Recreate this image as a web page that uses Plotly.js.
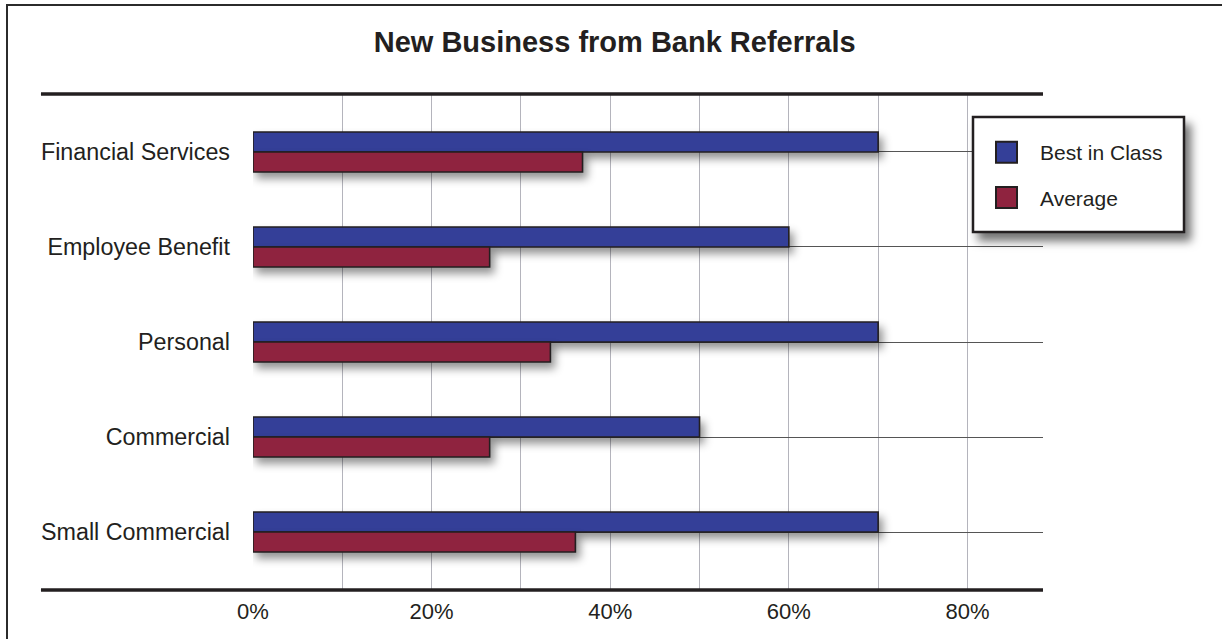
<!DOCTYPE html>
<html>
<head>
<meta charset="utf-8">
<script src="https://cdn.plot.ly/plotly-3.0.1.min.js"></script>
<style>
  html, body { margin: 0; padding: 0; background: #ffffff; overflow: hidden; }
  #wrap { position: relative; width: 1222px; height: 639px; overflow: hidden; }
  #chart { width: 1222px; height: 639px; }
  #frame { position: absolute; left: 5.5px; top: 3.8px; width: 1400px; height: 800px;
           border-top: 2.5px solid #2b2b2b; border-left: 2.5px solid #2b2b2b; pointer-events: none; }
  .barlayer .trace { filter: drop-shadow(4px 6px 4px rgba(0,0,0,0.42)); }
  .shapelayer path[data-index="2"] { filter: drop-shadow(6px 8px 5px rgba(0,0,0,0.55)); }
</style>
</head>
<body>
<div id="wrap">
<div id="chart"></div>
<div id="frame"></div>
</div>
<script>
const categories = ['Financial Services', 'Employee Benefit', 'Personal', 'Commercial', 'Small Commercial'];
const seriesNames = ['Best in Class', 'Average'];
const bestInClass = [0.70, 0.60, 0.70, 0.50, 0.70];
const average = [0.369, 0.265, 0.333, 0.265, 0.361];
const tickVals = [0, 0.1, 0.2, 0.3, 0.4, 0.5, 0.6, 0.7, 0.8];
const tickLabels = ['0%', '', '20%', '', '40%', '', '60%', '', '80%'];
const chartTitle = 'New Business from Bank Referrals';

const FONT = 'Liberation Sans, Arial, sans-serif';
const INK = '#231f20';

const traces = [
  {
    type: 'bar', orientation: 'h', name: seriesNames[0], legendgroup: 'a',
    y: categories, x: bestInClass,
    marker: { color: '#343f98', line: { color: INK, width: 1.6 } },
    hoverinfo: 'x+y'
  },
  {
    type: 'bar', orientation: 'h', name: seriesNames[1], legendgroup: 'b',
    y: categories, x: average,
    marker: { color: '#8f233f', line: { color: INK, width: 1.6 } },
    hoverinfo: 'x+y'
  }
];

const layout = {
  width: 1222, height: 639,
  paper_bgcolor: '#ffffff', plot_bgcolor: '#ffffff',
  margin: { l: 253, r: 179, t: 94, b: 49 },
  font: { family: FONT, color: INK, size: 22 },
  title: {
    text: chartTitle,
    font: { family: FONT, size: 29, color: INK, weight: 'bold' },
    xref: 'container', x: 0.503, xanchor: 'center',
    yref: 'container', y: 0.935, yanchor: 'middle'
  },
  barmode: 'group',
  bargap: 0.579,
  bargroupgap: 0,
  xaxis: {
    range: [0, 0.8846],
    tickvals: tickVals, ticktext: tickLabels,
    showgrid: true, gridcolor: '#b4b4bc', gridwidth: 1,
    zeroline: false, showline: false, ticks: '',
    tickfont: { family: FONT, size: 22, color: INK },
    ticklabelstandoff: 6,
    fixedrange: true
  },
  yaxis: {
    type: 'category',
    range: [4.61, -0.61],
    showgrid: true, gridcolor: '#555555', gridwidth: 1,
    zeroline: false, showline: false, ticks: '',
    tickfont: { family: FONT, size: 23.3, color: INK },
    ticklabelstandoff: 22,
    fixedrange: true
  },
  showlegend: true,
  legend: {
    x: (1000 - 253) / 790, xanchor: 'left', y: (590 - 132) / 496, yanchor: 'top',
    bgcolor: 'rgba(0,0,0,0)', borderwidth: 0,
    font: { family: FONT, size: 21, color: INK },
    traceorder: 'grouped', tracegroupgap: 15,
    itemclick: false, itemdoubleclick: false
  },
  shapes: [
    { type: 'line', xref: 'paper', yref: 'paper', x0: -0.2684, x1: 1, y0: 1, y1: 1,
      line: { color: INK, width: 3.5 }, layer: 'above' },
    { type: 'line', xref: 'paper', yref: 'paper', x0: -0.2684, x1: 1, y0: 0, y1: 0,
      line: { color: INK, width: 3.5 }, layer: 'above' },
    { type: 'rect', xref: 'paper', yref: 'paper',
      x0: (973 - 253) / 790, x1: (1184 - 253) / 790, y0: (590 - 232) / 496, y1: (590 - 117) / 496,
      fillcolor: '#ffffff', line: { color: INK, width: 2.5 }, layer: 'above' }
  ]
};

Plotly.newPlot('chart', traces, layout, { displayModeBar: false }).then(function (gd) {
  gd.querySelectorAll('.legend .scrollbox, .legend').forEach(function (el) {
    el.removeAttribute('clip-path');
  });
  gd.querySelectorAll('.legend .legendpoints path').forEach(function (p) {
    p.setAttribute('d', 'M-3,10.5H-24V-10.5H-3Z');
    p.style.strokeWidth = '2px';
  });
});
</script>
</body>
</html>
